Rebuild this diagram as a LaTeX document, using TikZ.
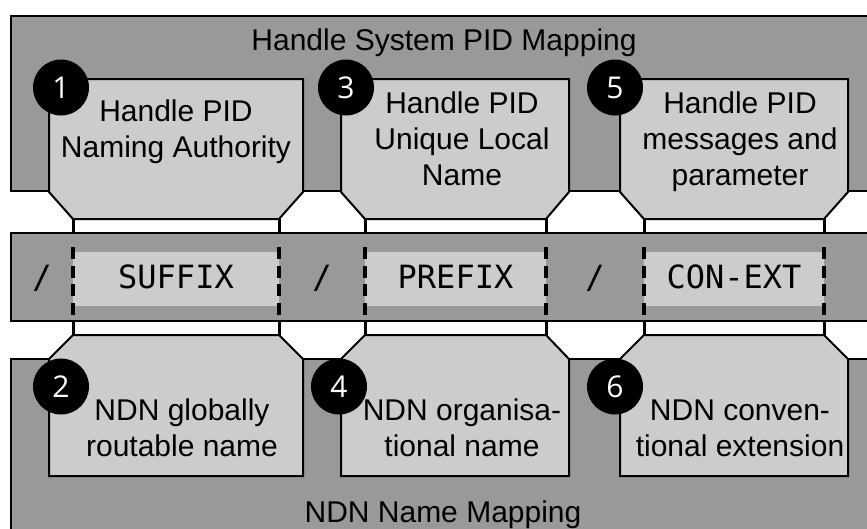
\documentclass[tikz,border=0pt]{standalone}
\usepackage{fontspec}
\setmainfont{Liberation Sans}
\setmonofont{DejaVu Sans Mono}
\newfontfamily\numfont{Open Sans}
\definecolor{bandgray}{HTML}{999999}
\definecolor{boxgray}{HTML}{CCCCCC}
\tikzset{
  band/.style={fill=bandgray, draw=black, line width=1.5pt},
  inner/.style={fill=boxgray},
  pidbox/.style={fill=boxgray, draw=black, line width=2pt, line join=miter},
  num/.style={circle, fill=black, minimum size=56pt, inner sep=0pt, text=white,
    font=\numfont\fontsize{30}{30}\selectfont},
  lbl/.style={font=\fontsize{30}{36}\selectfont, align=center, anchor=base, inner sep=0pt},
  title/.style={font=\fontsize{30}{36}\selectfont, anchor=base, inner sep=0pt},
  mono/.style={font=\ttfamily\fontsize{32}{36}\selectfont, anchor=base, inner sep=0pt},
  link/.style={line width=3pt},
  dashlink/.style={line width=3.5pt, dash pattern=on 12pt off 6.67pt},
}
\begin{document}
\begin{tikzpicture}[x=1pt, y=-1pt]
\useasboundingbox (0,0) rectangle (867,528);
\clip (0,0) rectangle (867,528);
\fill[white] (0,0) rectangle (867,528);
% bands
\draw[band] (11,16) rectangle (900,191);
\draw[band] (11,233) rectangle (900,321);
\draw[band] (11,359) rectangle (900,540);
% light regions in the middle band
\fill[inner] (73,252) rectangle (279,306);
\fill[inner] (365,252) rectangle (546,306);
\fill[inner] (644,252) rectangle (824,306);
% top boxes
\draw[pidbox] (49,79) -- (303,79) -- (303,192) -- (279,219) -- (73,219) -- (49,192) -- cycle;
\draw[pidbox] (341,79) -- (569,79) -- (569,192) -- (546,219) -- (365,219) -- (341,192) -- cycle;
\draw[pidbox] (620,79) -- (848,79) -- (848,192) -- (824,219) -- (644,219) -- (620,192) -- cycle;
% bottom boxes
\draw[pidbox] (73,335) -- (279,335) -- (303,359) -- (303,476) -- (49,476) -- (49,359) -- cycle;
\draw[pidbox] (365,335) -- (546,335) -- (569,359) -- (569,476) -- (341,476) -- (341,359) -- cycle;
\draw[pidbox] (644,335) -- (824,335) -- (848,359) -- (848,476) -- (620,476) -- (620,359) -- cycle;
% named coordinates
\foreach \n/\x in {a/73, b/279, c/365, d/546, e/644, f/824} {
  \coordinate (t\n) at (\x,219);
  \coordinate (mt\n) at (\x,233);
  \coordinate (dt\n) at (\x,247);
  \coordinate (db\n) at (\x,315);
  \coordinate (mb\n) at (\x,321);
  \coordinate (b\n) at (\x,335);
}
\foreach \n in {a,b,c,d,e,f} {
  \draw[link] (t\n) -- (mt\n);
  \draw[link] (mb\n) -- (b\n);
  \draw[dashlink] (dt\n) -- (db\n);
}
% texts
\node[title] (htitle) at (444,50) {Handle System PID Mapping};
\node[title] (ntitle) at (443,522) {NDN Name Mapping};
\node[lbl] (l1) at (176,157) {Handle PID\\Naming Authority};
\node[lbl] (l3) at (462,185) {Handle PID\\Unique Local\\Name};
\node[lbl] (l5) at (740,185) {Handle PID\\messages and\\parameter};
\node[lbl] (l2) at (182,456) {NDN globally\\routable name};
\node[lbl] (l4) at (462,456) {NDN organisa-\\tional name};
\node[lbl] (l6) at (740,456) {NDN conven-\\tional extension};
\node[mono] (s1) at (42,288) {/};
\node[mono] (suffix) at (176,288) {SUFFIX};
\node[mono] (s2) at (322,288) {/};
\node[mono] (prefix) at (455.5,288) {PREFIX};
\node[mono] (s3) at (595,288) {/};
\node[mono] (conext) at (734,288) {CON-EXT};
% numbers
\node[num] (n1) at (61,87.5) {1};
\node[num] (n3) at (346,87.5) {3};
\node[num] (n5) at (615,87.5) {5};
\node[num] (n2) at (61,386.5) {2};
\node[num] (n4) at (339,386.5) {4};
\node[num] (n6) at (615,386.5) {6};
\end{tikzpicture}
\end{document}
